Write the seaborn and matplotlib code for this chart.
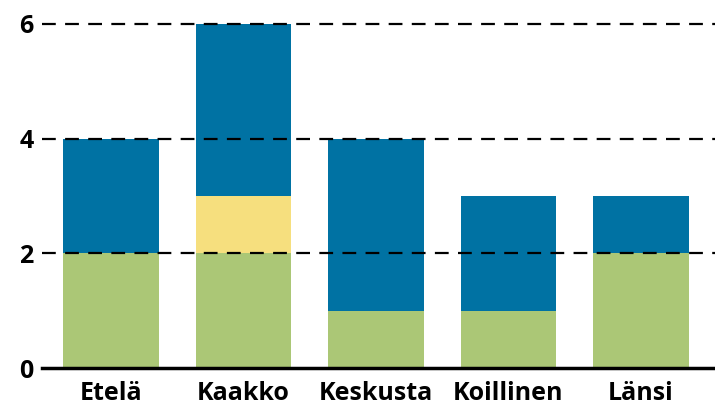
import matplotlib
matplotlib.use("Agg")
import matplotlib.pyplot as plt
import seaborn as sns
import numpy as np

categories = ["Etelä", "Kaakko", "Keskusta", "Koillinen", "Länsi"]
green_vals = [2, 2, 1, 1, 2]
yellow_vals = [0, 1, 0, 0, 0]
blue_vals = [2, 3, 3, 2, 1]
y_ticks = [0, 2, 4, 6]

GREEN = "#abc776"
YELLOW = "#f6df7e"
BLUE = "#0072a3"

sns.set_style("white")
plt.rcParams["font.family"] = ["Open Sans", "DejaVu Sans"]

g = np.array(green_vals)
gy = g + np.array(yellow_vals)
total = gy + np.array(blue_vals)

fig = plt.figure(figsize=(7.15, 4.08), dpi=100)
ax = fig.add_axes([0.0587, 0.098, 0.9413, 0.8775])

# draw tallest layer first, then overlay the lower parts
for vals, col in [(total, BLUE), (gy, YELLOW), (g, GREEN)]:
    sns.barplot(x=categories, y=vals, color=col, width=0.72, saturation=1,
                linewidth=0, ax=ax, zorder=2)

for t in y_ticks[1:]:
    ax.axhline(t, color="black", lw=1.6, dashes=(6.2, 4.2), zorder=3)

ax.set_xlim(-0.52, 4.56)
ax.set_ylim(0, 6.24)
ax.set_yticks(y_ticks)
ax.set_xlabel("")
ax.set_ylabel("")
for s in ["top", "right", "left"]:
    ax.spines[s].set_visible(False)
ax.spines["bottom"].set_linewidth(2.5)
ax.spines["bottom"].set_color("black")
ax.spines["bottom"].set_zorder(4)
ax.tick_params(axis="both", length=0, labelsize=18, labelcolor="black")
ax.tick_params(axis="y", pad=6)
ax.tick_params(axis="x", pad=9)
for lbl in ax.get_xticklabels() + ax.get_yticklabels():
    lbl.set_fontweight("bold")

fig.savefig("out.png", dpi=100)
